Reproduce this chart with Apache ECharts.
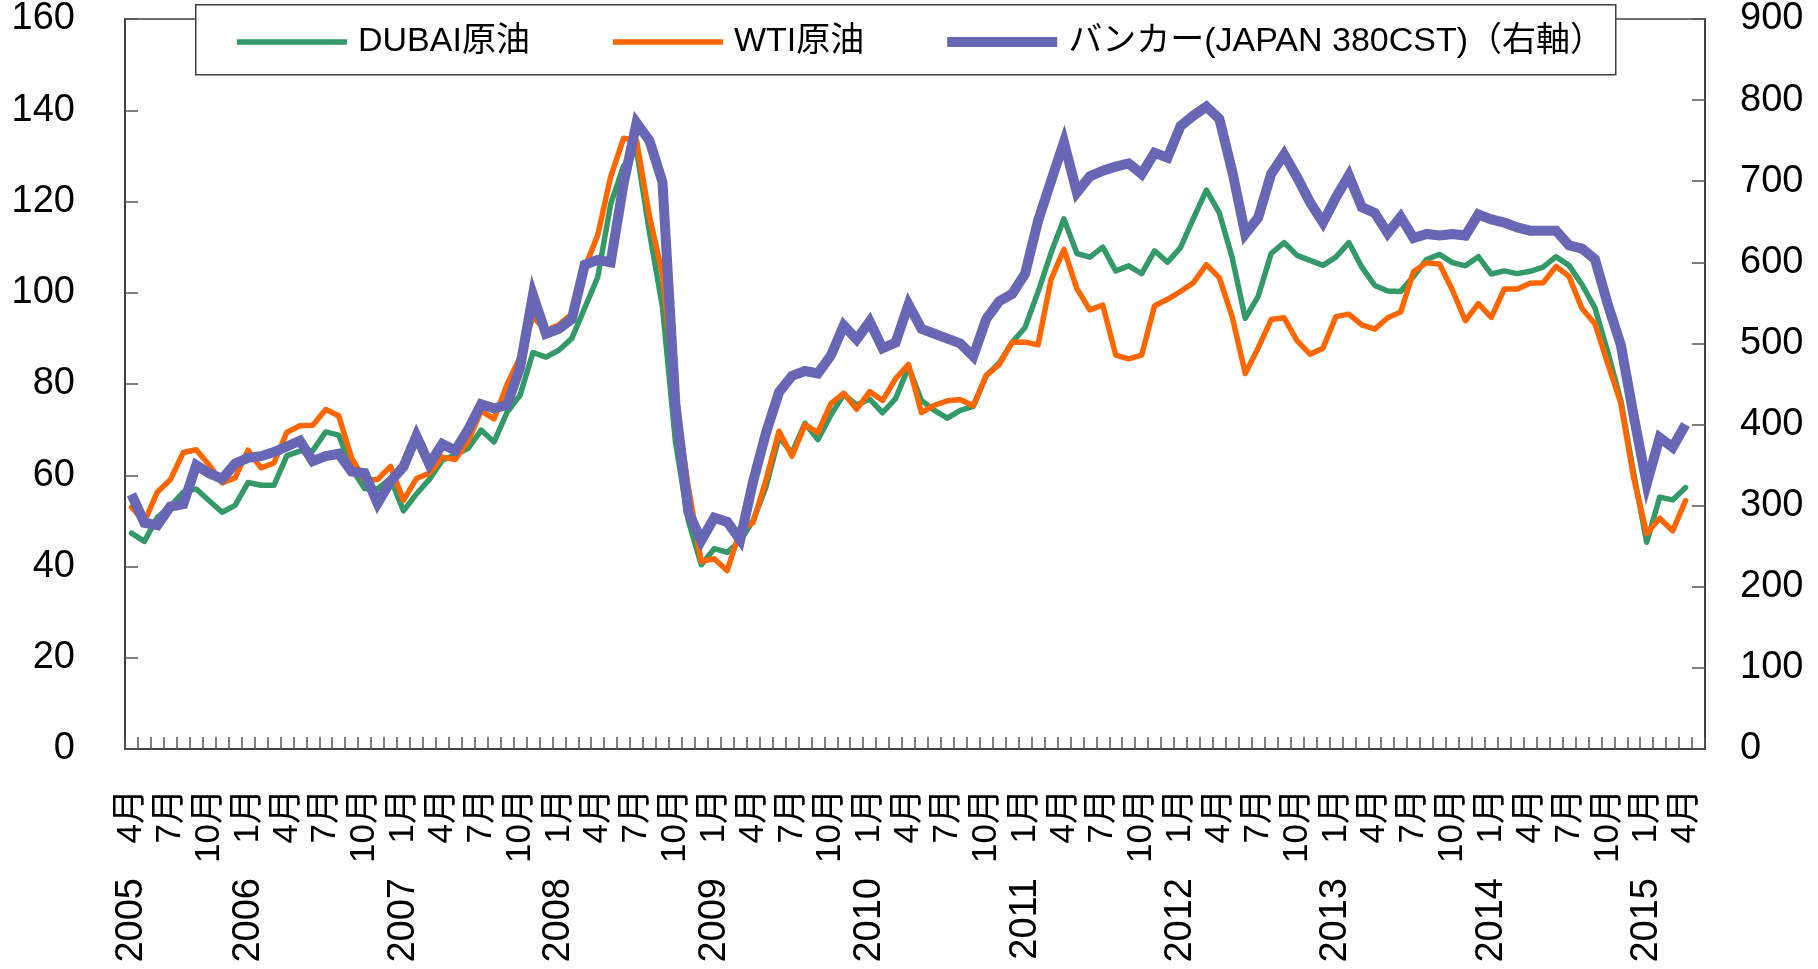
<!DOCTYPE html>
<html>
<head>
<meta charset="utf-8">
<script src="https://cdn.jsdelivr.net/npm/echarts@6.0.0/dist/echarts.min.js"></script>
<style>
  html, body { margin: 0; padding: 0; background: #fff; }
  #crude { width: 1818px; height: 969px; }
</style>
</head>
<body>
<div id="crude"></div>
<script>
// monthly categories, 2005/4 .. 2015/5 (last month has no data yet)
var categories = [
  '2005/4','2005/5','2005/6','2005/7','2005/8','2005/9','2005/10','2005/11','2005/12',
  '2006/1','2006/2','2006/3','2006/4','2006/5','2006/6','2006/7','2006/8','2006/9','2006/10','2006/11','2006/12',
  '2007/1','2007/2','2007/3','2007/4','2007/5','2007/6','2007/7','2007/8','2007/9','2007/10','2007/11','2007/12',
  '2008/1','2008/2','2008/3','2008/4','2008/5','2008/6','2008/7','2008/8','2008/9','2008/10','2008/11','2008/12',
  '2009/1','2009/2','2009/3','2009/4','2009/5','2009/6','2009/7','2009/8','2009/9','2009/10','2009/11','2009/12',
  '2010/1','2010/2','2010/3','2010/4','2010/5','2010/6','2010/7','2010/8','2010/9','2010/10','2010/11','2010/12',
  '2011/1','2011/2','2011/3','2011/4','2011/5','2011/6','2011/7','2011/8','2011/9','2011/10','2011/11','2011/12',
  '2012/1','2012/2','2012/3','2012/4','2012/5','2012/6','2012/7','2012/8','2012/9','2012/10','2012/11','2012/12',
  '2013/1','2013/2','2013/3','2013/4','2013/5','2013/6','2013/7','2013/8','2013/9','2013/10','2013/11','2013/12',
  '2014/1','2014/2','2014/3','2014/4','2014/5','2014/6','2014/7','2014/8','2014/9','2014/10','2014/11','2014/12',
  '2015/1','2015/2','2015/3','2015/4','2015/5'
];

// DUBAI crude, $/bbl (left axis)
var dubai = [
  47.3, 45.5, 50.8, 53.2, 56.3, 57.0, 54.4, 51.9, 53.4,
  58.4, 57.8, 57.8, 64.3, 65.3, 65.4, 69.5, 68.8, 61.5, 57.1, 57.0, 59.3,
  52.2, 55.9, 59.1, 63.3, 64.5, 65.9, 69.9, 67.3, 73.8, 77.5, 86.9, 85.9,
  87.4, 90.0, 96.7, 103.4, 119.4, 127.8, 131.3, 113.2, 96.9, 67.4, 50.0, 40.4,
  43.9, 43.1, 45.6, 50.1, 57.5, 68.4, 64.9, 71.4, 67.8, 73.2, 77.7, 75.4,
  76.7, 73.7, 76.8, 83.7, 76.4, 74.2, 72.5, 74.2, 75.1, 81.8, 84.6, 89.1,
  92.4, 100.2, 108.7, 116.2, 108.6, 107.8, 110.0, 104.8, 105.9, 104.2, 109.2, 106.7,
  109.9, 116.3, 122.5, 117.5, 107.6, 94.4, 99.2, 108.6, 111.0, 108.2, 107.1, 106.0,
  107.8, 111.0, 105.6, 101.6, 100.4, 100.3, 103.6, 107.3, 108.4, 106.6, 105.9, 107.9,
  104.1, 104.8, 104.2, 104.7, 105.6, 107.9, 106.0, 101.8, 96.7, 86.9, 76.4, 60.3,
  45.3, 55.2, 54.6, 57.3, null
];

// WTI crude, $/bbl (left axis)
var wti = [
  52.98, 49.83, 56.35, 58.99, 64.98, 65.59, 62.26, 58.32, 59.41,
  65.49, 61.63, 62.69, 69.44, 70.84, 70.95, 74.41, 73.04, 63.80, 58.89, 59.08, 61.96,
  54.51, 59.28, 60.44, 63.98, 63.46, 67.49, 74.12, 72.36, 79.92, 85.80, 94.77, 91.69,
  92.97, 95.39, 105.45, 112.58, 125.40, 133.88, 133.37, 116.67, 104.11, 76.61, 57.31, 41.12,
  41.71, 39.09, 47.94, 49.65, 59.03, 69.64, 64.15, 71.05, 69.41, 75.72, 77.99, 74.47,
  78.33, 76.39, 81.20, 84.29, 73.74, 75.34, 76.32, 76.60, 75.24, 81.89, 84.25, 89.15,
  89.17, 88.58, 102.86, 109.53, 100.90, 96.26, 97.30, 86.33, 85.52, 86.32, 97.16, 98.56,
  100.27, 102.20, 106.16, 103.32, 94.66, 82.30, 87.90, 94.13, 94.51, 89.49, 86.53, 87.86,
  94.76, 95.31, 92.94, 92.02, 94.51, 95.77, 104.67, 106.57, 106.29, 100.54, 93.86, 97.63,
  94.62, 100.82, 100.80, 102.07, 102.18, 105.79, 103.59, 96.54, 93.21, 84.40, 75.79, 59.29,
  47.22, 50.58, 47.82, 54.45, null
];

// bunker JAPAN 380CST, $/t (right axis)
var bunker = [
  314, 279, 276, 299, 302, 350, 340, 333, 352,
  359, 361, 366, 373, 380, 355, 361, 364, 342, 340, 303, 330,
  348, 386, 351, 376, 368, 394, 425, 420, 424, 470, 560, 512,
  518, 530, 597, 603, 600, 697, 772, 750, 699, 425, 292, 257,
  285, 280, 258, 330, 390, 440, 460, 466, 463, 485, 522, 505,
  527, 494, 501, 548, 518, 512, 506, 500, 484, 530, 552, 561,
  586, 651, 700, 748, 686, 706, 713, 718, 722, 709, 735, 729,
  768, 781, 792, 777, 712, 635, 655, 709, 733, 705, 674, 649,
  680, 707, 668, 661, 636, 656, 630, 635, 633, 635, 633, 659,
  653, 649, 643, 639, 639, 639, 621, 617, 604, 548, 498, 410,
  327, 384, 372, 400, null
];

var leftTicks = { min: 0, max: 160, interval: 20 };
var rightTicks = { min: 0, max: 900, interval: 100 };

var chartDom = document.getElementById('crude');
var myChart = echarts.init(chartDom);
var fontLatin = "'Liberation Sans', 'Noto Sans CJK JP', sans-serif";
var axisColor = '#404040';

function monthLabel(value) {
  var m = +value.split('/')[1];
  return (m % 3 === 1) ? m + '月' : '';
}
function yearLabel(value, index) {
  var parts = value.split('/');
  return (index === 0 || parts[1] === '1') ? parts[0] : '';
}

// legend keys: a bar of the line's thickness plus a blank point so the text sits further right
var thinKey = 'path://M0,0H110V5.5H0Z M116,2.5L116,3Z';
var thickKey = 'path://M0,0H110V10H0Z M116,5L116,5.5Z';

var option = {
  animation: false,
  backgroundColor: '#fff',
  grid: {
    left: 125, right: 113, top: 18, bottom: 220,
    show: true, borderColor: axisColor, borderWidth: 1.5, backgroundColor: 'transparent'
  },
  graphic: [{
    type: 'rect', left: 195, top: 4, z: 50,
    shape: { width: 1420, height: 70 },
    style: { fill: '#fff', stroke: axisColor, lineWidth: 1.5 }
  }],
  legend: {
    left: 232, top: 20, z: 60,
    itemWidth: 116, itemHeight: 14, itemGap: 83,
    itemStyle: { borderWidth: 0 },
    textStyle: { fontSize: 34, fontFamily: fontLatin, color: '#000' },
    data: [
      { name: 'DUBAI原油', icon: thinKey },
      { name: 'WTI原油', icon: thinKey },
      { name: 'バンカー(JAPAN 380CST)（右軸）', icon: thickKey }
    ]
  },
  xAxis: [{
    type: 'category', data: categories, boundaryGap: true,
    axisLine: { lineStyle: { color: axisColor, width: 2 } },
    axisTick: { show: true, inside: true, length: 12, interval: 0, lineStyle: { color: '#555', width: 1.5 } },
    axisLabel: {
      interval: 0, rotate: 90, margin: 40, fontSize: 35, fontFamily: fontLatin, color: '#000',
      formatter: monthLabel
    },
    splitLine: { show: false }
  }, {
    type: 'category', data: categories, boundaryGap: true, position: 'bottom',
    axisLine: { show: false }, axisTick: { show: false },
    axisLabel: {
      interval: 0, rotate: 90, margin: 129, fontSize: 38, fontFamily: fontLatin, color: '#000',
      formatter: yearLabel
    },
    splitLine: { show: false }
  }],
  yAxis: [{
    type: 'value', position: 'left',
    min: leftTicks.min, max: leftTicks.max, interval: leftTicks.interval,
    axisLine: { show: true, lineStyle: { color: axisColor, width: 2 } },
    axisTick: { show: true, inside: true, length: 13, lineStyle: { color: '#555', width: 1.5 } },
    axisLabel: { margin: 50, fontSize: 38, fontFamily: fontLatin, color: '#000' },
    splitLine: { show: false }
  }, {
    type: 'value', position: 'right',
    min: rightTicks.min, max: rightTicks.max, interval: rightTicks.interval,
    axisLine: { show: true, lineStyle: { color: axisColor, width: 2 } },
    axisTick: { show: true, inside: true, length: 13, lineStyle: { color: '#555', width: 1.5 } },
    axisLabel: { margin: 35, fontSize: 38, fontFamily: fontLatin, color: '#000' },
    splitLine: { show: false }
  }],
  series: [{
    name: 'DUBAI原油', type: 'line', data: dubai,
    symbol: 'none', showSymbol: false, color: '#339966',
    lineStyle: { width: 5.5, color: '#339966', cap: 'round', join: 'round' }
  }, {
    name: 'WTI原油', type: 'line', data: wti,
    symbol: 'none', showSymbol: false, color: '#ff6600',
    lineStyle: { width: 5.5, color: '#ff6600', cap: 'round', join: 'round' }
  }, {
    name: 'バンカー(JAPAN 380CST)（右軸）', type: 'line', yAxisIndex: 1, data: bunker,
    symbol: 'none', showSymbol: false, color: '#6767b5',
    lineStyle: { width: 10, color: '#6767b5', join: 'miter' }
  }]
};

option && myChart.setOption(option);
</script>
</body>
</html>
